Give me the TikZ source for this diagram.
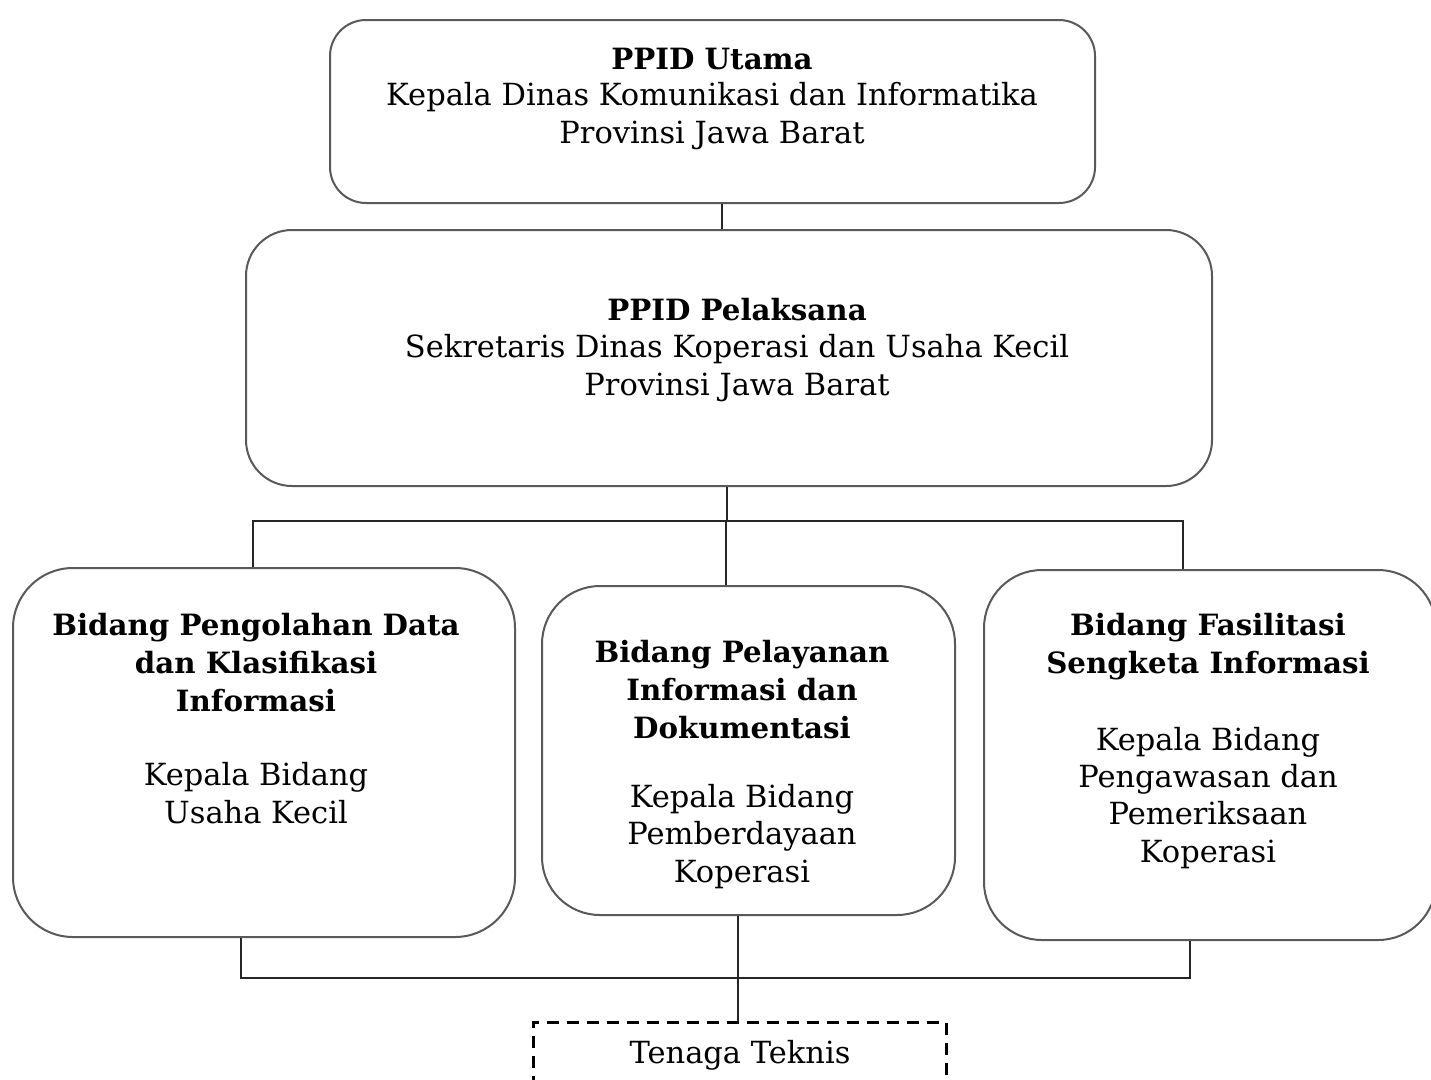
\documentclass[tikz,border=0pt]{standalone}
\usepackage{fontspec}
\setmainfont{DejaVu Serif}
\begin{document}
\begin{tikzpicture}[x=1pt,y=-1pt,
  box/.style={draw=black!65, line width=2pt, rounded corners=#1, inner sep=0pt},
  dbox/.style={draw=black, line width=3pt, dash pattern=on 12pt off 8pt, inner sep=0pt},
  conn/.style={draw=black!85, line width=1.8pt},
  txt/.style={font=\fontsize{30.5}{37.3}\selectfont, align=center, inner sep=0pt, anchor=base},
  btxt/.style={txt, font=\fontsize{29.3}{37.8}\selectfont\bfseries}]
\clip (0,0) rectangle (1431,1079);
\fill[white] (0,0) rectangle (1431,1079);
% boxes
\node[box=36, minimum width=765, minimum height=183] (utama) at (712.5,111.5) {};
\node[box=46, minimum width=966, minimum height=256] (pelaksana) at (729,358) {};
\node[box=60, minimum width=502, minimum height=369] (left) at (264,752.5) {};
\node[box=58, minimum width=413, minimum height=329] (mid) at (748.5,750.5) {};
\node[box=58, minimum width=452, minimum height=370] (right) at (1210,755) {};
\node[dbox, minimum width=413, minimum height=100] (teknis) at (739.5,1072) {};
% texts (anchored at the baseline of the last line)
\node[btxt] (t1a) at (712,69) {PPID Utama};
\node[txt] (t1b) at (712,143) {Kepala Dinas Komunikasi dan Informatika\\Provinsi Jawa Barat};
\node[btxt] (t2a) at (737,320) {PPID Pelaksana};
\node[txt] (t2b) at (737,395) {Sekretaris Dinas Koperasi dan Usaha Kecil\\Provinsi Jawa Barat};
\node[btxt] (t3a) at (256,711) {Bidang Pengolahan Data\\dan Klasifikasi\\Informasi};
\node[txt] (t3b) at (256,823) {Kepala Bidang\\Usaha Kecil};
\node[btxt] (t4a) at (742,738) {Bidang Pelayanan\\Informasi dan\\Dokumentasi};
\node[txt] (t4b) at (742,882) {Kepala Bidang\\Pemberdayaan\\Koperasi};
\node[btxt] (t5a) at (1208,673) {Bidang Fasilitasi\\Sengketa Informasi};
\node[txt] (t5b) at (1208,862) {Kepala Bidang\\Pengawasan dan\\Pemeriksaan\\Koperasi};
\node[txt] (t6) at (740,1063) {Tenaga Teknis};
% connector coordinates
\coordinate (xa) at (722,0);
\coordinate (jt) at (727,521);
\coordinate (jl) at (253,521);
\coordinate (jr) at (1183,521);
\coordinate (jm) at (726,521);
\coordinate (bl) at (241,978);
\coordinate (br) at (1190,978);
\coordinate (bm) at (738,0);
% connectors
\draw[conn] (utama.south -| xa) -- (pelaksana.north -| xa);
\draw[conn] (pelaksana.south -| jt) -- (jt);
\draw[conn] (left.north -| jl) -- (jl) -- (jr) -- (right.north -| jr);
\draw[conn] (jm) -- (mid.north -| jm);
\draw[conn] (left.south -| bl) -- (bl) -- (br) -- (right.south -| br);
\draw[conn] (mid.south -| bm) -- (teknis.north -| bm);
\end{tikzpicture}
\end{document}
